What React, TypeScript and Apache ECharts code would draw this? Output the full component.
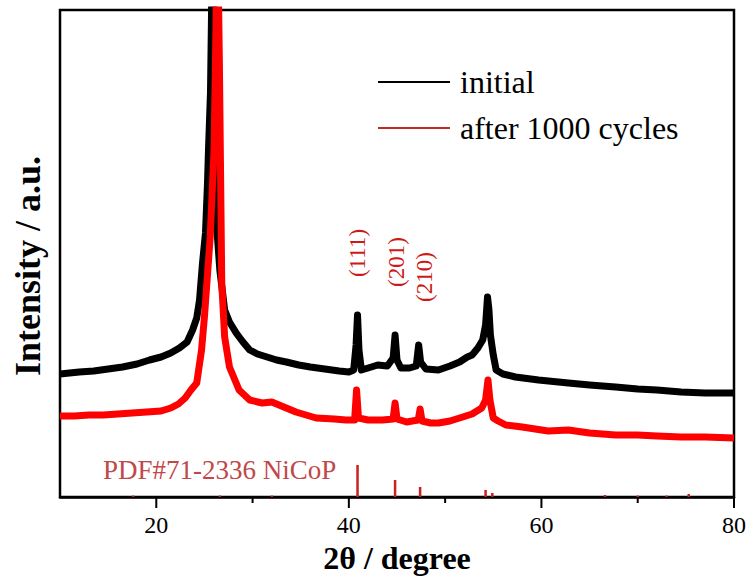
import React, { useEffect, useRef } from "react";
import * as echarts from "echarts";

// 2θ (degree) and intensity (a.u.)
const initialTheta = [
  10.0, 11.0, 12.0, 13.5, 15.0, 16.5, 18.0, 19.3, 20.5, 21.5, 22.4, 23.2, 23.77, 24.2, 24.49, 24.8,
  25.11, 25.32, 25.42, 25.63, 25.84, 26.05, 26.3, 26.6, 26.85, 27.1, 27.6, 28.3, 29.0, 29.7, 30.5,
  31.5, 32.5, 33.5, 34.8, 36.0, 37.5, 39.0, 40.0, 40.5, 40.75, 40.9, 41.05, 41.3, 42.0, 43.0, 44.0,
  44.6, 44.8, 45.0, 45.4, 46.3, 47.0, 47.25, 47.45, 48.0, 49.3, 50.5, 51.5, 52.3, 52.8, 53.4, 53.9,
  54.2, 54.4, 54.55, 54.7, 55.0, 55.3, 56.0, 57.3, 59.7, 62.8, 65.0, 67.7, 70.0, 72.0, 74.5, 77.0, 80.0,
];
const initialIntensity = [
  123, 124, 125, 126, 128, 130, 133, 137, 140, 144, 149, 155, 167, 179, 197, 234,
  264, 314, 347, 405, 560, 377, 267, 227, 207, 187, 175, 164, 155, 147, 143,
  140, 137, 135, 132, 130, 128, 126, 125, 127, 152, 182, 147, 127, 129, 132, 131,
  139, 162, 137, 129, 129, 131, 152, 135, 128, 127, 131, 135, 140, 142, 149, 157,
  172, 200, 187, 162, 142, 127, 123, 120, 117, 114, 112, 110, 108, 107, 105, 104, 104,
];

const afterTheta = [
  10.0, 11.5, 13.0, 14.5, 16.0, 17.5, 19.0, 20.5, 21.5, 22.3, 23.0, 23.6, 24.2, 24.7, 25.0, 25.3,
  25.6, 25.8, 26.0, 26.15, 26.35, 26.55, 26.8, 27.1, 27.6, 28.6, 29.7, 31.0, 32.0, 33.0, 34.5, 36.6,
  38.5, 39.7, 40.6, 40.8, 41.0, 42.0, 43.5, 44.6, 44.8, 45.0, 46.0, 47.2, 47.4, 47.6, 48.5, 49.3,
  50.5, 51.5, 52.8, 53.8, 54.2, 54.45, 54.65, 55.0, 55.5, 56.3, 58.0, 60.7, 62.8, 65.0, 67.7, 70.0,
  72.0, 74.5, 77.0, 80.0,
];
const afterIntensity = [
  81, 81, 82, 82, 83, 84, 85, 86, 89, 93, 99, 107, 114, 147, 180, 220,
  260, 304, 347, 437, 577, 437, 214, 160, 130, 107, 97, 94, 95, 91, 85, 79,
  78, 77, 77, 107, 79, 77, 77, 78, 94, 78, 75, 77, 88, 76, 74, 74,
  76, 79, 83, 89, 97, 117, 97, 79, 76, 72, 70, 66, 67, 64, 62, 62,
  61, 60, 60, 59,
];

// PDF#71-2336 NiCoP reference lines
const pdfTheta = [17.6, 26.6, 32.0, 40.9, 44.8, 47.4, 54.2, 54.9, 66.6, 70.0, 73.0, 75.3];
const pdfIntensity = [1.5, 1.5, 1.5, 32, 17, 10, 7, 4, 2, 1.5, 1.5, 3];

const xLabelValues = [20, 40, 60, 80];
const xTickValues = [20, 30, 40, 50, 60, 70, 80];
const seriesNames = ["initial", "after 1000 cycles"];
const planeLabels = ["(111)", "(201)", "(210)"];
const pdfLabel = "PDF#71-2336 NiCoP";

const zip = (a: number[], b: number[]) => a.map((v, i) => [v, b[i]]);

const SERIF = '"Liberation Serif", "Times New Roman", serif';

const W = 753;
const H = 579;
const GRID = { left: 60, right: 19, top: 10, bottom: 82 };
const X_MIN = 10;
const X_MAX = 80;

export default function App() {
  const ref = useRef<HTMLDivElement>(null);

  useEffect(() => {
    if (!ref.current) return;
    const chart = echarts.init(ref.current, null, { renderer: "svg" });
    const planeText = (text: string, x: number, y: number) => ({
      type: "text",
      x,
      y,
      rotation: Math.PI / 2,
      style: {
        text,
        fill: "#cc1a1a",
        font: `23px ${SERIF}`,
        align: "center",
        verticalAlign: "middle",
      },
    });

    // outward x-axis ticks (major at labelled values, minor between)
    const plotW = W - GRID.left - GRID.right;
    const axisY = H - GRID.bottom;
    const tickGraphics = xTickValues.map((v) => {
      const px = GRID.left + ((v - X_MIN) / (X_MAX - X_MIN)) * plotW;
      const len = xLabelValues.includes(v) ? 11 : 6;
      return {
        type: "line",
        z: 100,
        shape: { x1: px, y1: axisY, x2: px, y2: axisY + len },
        style: { stroke: "#000", lineWidth: 2 },
      };
    });

    const option: any = {
      animation: false,
      backgroundColor: "#fff",
      grid: {
        ...GRID,
        show: true,
        borderColor: "#000",
        borderWidth: 2.5,
        backgroundColor: "transparent",
      },
      xAxis: {
        type: "value",
        min: X_MIN,
        max: X_MAX,
        interval: 10,
        position: "bottom",
        axisLine: { show: true, onZero: false, lineStyle: { color: "#000", width: 2.5 } },
        splitLine: { show: false },
        axisTick: { show: false },
        axisLabel: {
          color: "#000",
          fontSize: 24,
          fontFamily: SERIF,
          margin: 16,
          formatter: (v: number) => (xLabelValues.includes(v) ? String(v) : ""),
        },
        name: "2θ / degree",
        nameLocation: "middle",
        nameGap: 37,
        nameTextStyle: {
          color: "#000",
          fontSize: 32,
          fontWeight: "bold",
          fontFamily: SERIF,
        },
      },
      yAxis: {
        type: "value",
        min: 0,
        max: 487,
        axisLine: { show: false },
        axisTick: { show: false },
        axisLabel: { show: false },
        splitLine: { show: false },
      },
      series: [
        {
          name: seriesNames[0],
          type: "line",
          data: zip(initialTheta, initialIntensity),
          showSymbol: false,
          symbol: "none",
          clip: true,
          lineStyle: { color: "#000", width: 7, join: "round" },
          z: 2,
        },
        {
          name: seriesNames[1],
          type: "line",
          data: zip(afterTheta, afterIntensity),
          showSymbol: false,
          symbol: "none",
          clip: true,
          lineStyle: { color: "#ff0000", width: 7, join: "round" },
          z: 3,
        },
        {
          name: "PDF#71-2336",
          type: "custom",
          data: zip(pdfTheta, pdfIntensity),
          encode: { x: 0, y: 1 },
          renderItem: (_params: any, api: any) => {
            const x = api.value(0);
            const h = api.value(1);
            const p0 = api.coord([x, 0]);
            const p1 = api.coord([x, h]);
            return {
              type: "line",
              shape: { x1: p0[0], y1: p0[1], x2: p1[0], y2: p1[1] },
              style: { stroke: "#cc1f1f", lineWidth: 2.5 },
            };
          },
          z: 4,
        },
      ],
      graphic: [
        {
          type: "text",
          x: 28,
          y: 266,
          rotation: Math.PI / 2,
          style: {
            text: "Intensity / a.u.",
            fill: "#000",
            font: `bold 36px ${SERIF}`,
            align: "center",
            verticalAlign: "middle",
          },
        },
        {
          type: "line",
          shape: { x1: 378, y1: 82, x2: 450, y2: 82 },
          style: { stroke: "#000", lineWidth: 2 },
        },
        {
          type: "text",
          x: 460,
          y: 82,
          style: {
            text: seriesNames[0],
            fill: "#000",
            font: `32px ${SERIF}`,
            verticalAlign: "middle",
          },
        },
        {
          type: "line",
          shape: { x1: 378, y1: 128, x2: 450, y2: 128 },
          style: { stroke: "#c0282d", lineWidth: 2 },
        },
        {
          type: "text",
          x: 460,
          y: 128,
          style: {
            text: seriesNames[1],
            fill: "#000",
            font: `32px ${SERIF}`,
            verticalAlign: "middle",
          },
        },
        planeText(planeLabels[0], 357, 253),
        planeText(planeLabels[1], 396, 262),
        planeText(planeLabels[2], 424, 277),
        {
          type: "text",
          x: 103,
          y: 470,
          style: {
            text: pdfLabel,
            fill: "#c04848",
            font: `27px ${SERIF}`,
            verticalAlign: "middle",
          },
        },
        ...tickGraphics,
      ],
    };
    chart.setOption(option);
    return () => chart.dispose();
  }, []);

  return (
    <div
      ref={ref}
      style={{ position: "absolute", left: 0, top: 0, width: W, height: H }}
    />
  );
}
